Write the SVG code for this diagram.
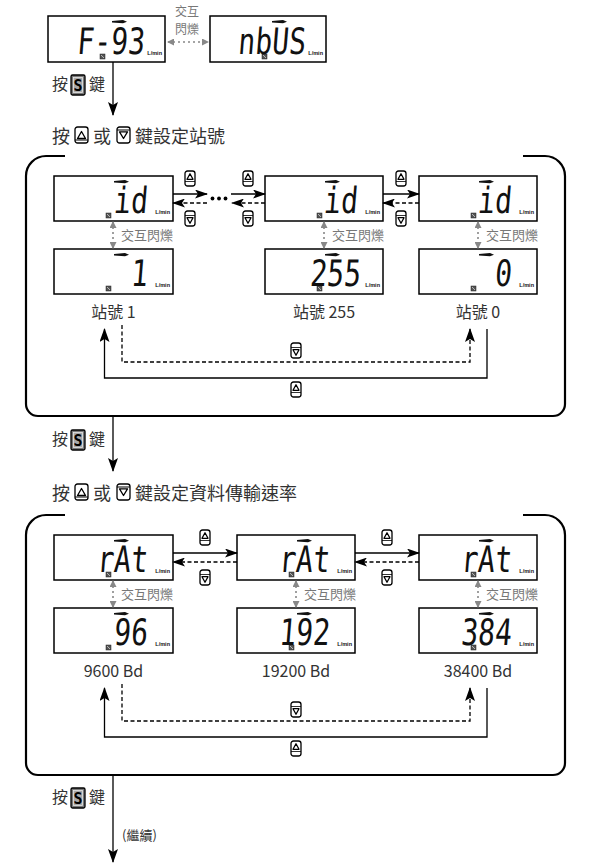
<svg xmlns="http://www.w3.org/2000/svg" width="600" height="864" viewBox="0 0 600 864">
<style>
.disp{fill:#fff;stroke:#000;stroke-width:1.5}
.seg{font-family:"DejaVu Sans Mono",monospace;font-size:28px;fill:#111;text-anchor:end}
.lmin{font-family:"Liberation Sans",Arial,sans-serif;font-size:5.5px;font-weight:bold;fill:#111;text-anchor:end}
.cjk{font-family:"Noto Sans CJK TC","Noto Sans CJK SC",sans-serif}
.title{font-size:18px;fill:#333}
.press{font-size:16px;fill:#333}
.lbl{font-size:16px;fill:#333;text-anchor:middle}
.blink{font-size:13px;fill:#777}
.ln{stroke:#000;stroke-width:1.3;fill:none}
.dash{stroke-dasharray:4 2.5}
.gl{stroke:#888;stroke-width:1.6;stroke-dasharray:2 3;fill:none}
.frame{stroke:#000;stroke-width:2.2;fill:none}
.key{fill:#fff;stroke:#000;stroke-width:1.3}
.tri{fill:none;stroke:#000;stroke-width:1.3;stroke-linejoin:round}
.skey{fill:#7a7a7a;stroke:#000;stroke-width:1.3}
.skin{fill:#a8a8a8;stroke:#e8e8e8;stroke-width:0.8}
.stxt{font-family:"DejaVu Sans Mono",monospace;font-weight:bold;font-size:15px;fill:#000;text-anchor:middle}
</style>
<defs>
<marker id="ah" markerUnits="userSpaceOnUse" markerWidth="13" markerHeight="9" viewBox="0 0 13 9" refX="12" refY="4.5" orient="auto"><path d="M0,0 L13,4.5 L0,9 L3,4.5 Z" fill="#000"/></marker>
<marker id="ahv" markerUnits="userSpaceOnUse" markerWidth="14" markerHeight="10" viewBox="0 0 14 10" refX="13" refY="5" orient="auto"><path d="M0,0 L14,5 L0,10 L3,5 Z" fill="#000"/></marker>
<marker id="ag" markerUnits="userSpaceOnUse" markerWidth="7" markerHeight="7" viewBox="0 0 7 7" refX="6" refY="3.5" orient="auto-start-reverse"><path d="M0,0 L7,3.5 L0,7 Z" fill="#888"/></marker>
<path id="bar" d="M0,0.9 L11,0 L15,1.7 L11,3.3 L0,2.5 Z" fill="#111"/>
<g id="ico"><rect width="5" height="5" fill="#555" stroke="#222" stroke-width="0.5"/><path d="M1,1 L4,4" stroke="#ddd" stroke-width="0.7"/></g>
<g id="ku"><rect x="0" y="0" width="10" height="15" rx="2.5" class="key"/><path d="M5,2.8 L8,8.3 H2 Z" class="tri"/><line x1="0" y1="10.5" x2="10" y2="10.5" stroke="#000" stroke-width="0.8"/></g>
<g id="kd"><rect x="0" y="0" width="10" height="15" rx="2.5" class="key"/><line x1="0" y1="4.5" x2="10" y2="4.5" stroke="#000" stroke-width="0.8"/><path d="M5,12.2 L8,6.7 H2 Z" class="tri"/></g>
<g id="tu"><rect x="0" y="0" width="13" height="16" rx="2.5" class="key" stroke-width="1.5"/><path d="M6.5,4.5 L10.5,11.5 H2.5 Z" class="tri" stroke-width="1.7"/><line x1="0" y1="13" x2="13" y2="13" stroke="#000" stroke-width="1"/></g>
<g id="td"><rect x="0" y="0" width="13" height="16" rx="2.5" class="key" stroke-width="1.5"/><line x1="0" y1="3" x2="13" y2="3" stroke="#000" stroke-width="1"/><path d="M6.5,11.5 L10.5,4.8 H2.5 Z" class="tri" stroke-width="1.7"/></g>
</defs>

<!-- ===== Top section ===== -->
<g id="d-f93">
<rect class="disp" x="48" y="16" width="117" height="46"/>
<use href="#bar" x="112" y="20"/>
<use href="#ico" x="100" y="54"/>
<text class="lmin" x="162" y="55">L/min</text>
<text class="seg" transform="translate(144,54) scale(1,1.3) skewX(-6)">F-93</text>
</g>
<g id="d-nbus">
<rect class="disp" x="210" y="16" width="116" height="46"/>
<use href="#bar" x="272" y="20"/>
<use href="#ico" x="262" y="54"/>
<text class="lmin" x="323" y="55">L/min</text>
<text class="seg" transform="translate(305,54) scale(1,1.3) skewX(-6)">nbUS</text>
</g>
<g id="blink-top">
<text class="cjk" x="187" y="16" font-size="12" fill="#777" text-anchor="middle">交互</text>
<text class="cjk" x="187" y="34" font-size="12" fill="#777" text-anchor="middle">閃爍</text>
</g>
<g id="press1">
<text class="cjk press" x="52" y="90">按</text>
<rect class="skey" x="71" y="75" width="14" height="20" rx="1.5"/>
<rect class="skin" x="73.5" y="77.5" width="9" height="15"/>
<text class="stxt" x="78" y="90.5">S</text>
<text class="cjk press" x="89" y="90">鍵</text>
</g>
<g id="title1">
<text class="cjk title" x="52" y="143">按</text>
<use href="#tu" x="75" y="127"/>
<text class="cjk title" x="93" y="143">或</text>
<use href="#td" x="117" y="127"/>
<text class="cjk title" x="135" y="143">鍵設定站號</text>
</g>

<!-- ===== Box 1 : station number ===== -->
<g id="box1">
<path class="frame" d="M65,156 H46 A20,20 0 0 0 26,176 V404 A12,12 0 0 0 38,416 H553 A12,12 0 0 0 565,404 V176 A20,20 0 0 0 545,156 H523"/>
</g>
<g id="b1-id-a">
<rect class="disp" x="54" y="176" width="119" height="45"/>
<use href="#bar" x="114" y="180"/>
<use href="#ico" x="106" y="213"/>
<text class="lmin" x="170" y="214">L/min</text>
<text class="seg" transform="translate(147,213) scale(1,1.3) skewX(-6)">id</text>
</g>
<g id="b1-id-b">
<rect class="disp" x="265" y="176" width="118" height="45"/>
<use href="#bar" x="325" y="180"/>
<use href="#ico" x="317" y="213"/>
<text class="lmin" x="380" y="214">L/min</text>
<text class="seg" transform="translate(357,213) scale(1,1.3) skewX(-6)">id</text>
</g>
<g id="b1-id-c">
<rect class="disp" x="419" y="176" width="118" height="45"/>
<use href="#bar" x="479" y="180"/>
<use href="#ico" x="471" y="213"/>
<text class="lmin" x="534" y="214">L/min</text>
<text class="seg" transform="translate(511,213) scale(1,1.3) skewX(-6)">id</text>
</g>
<g id="b1-v1">
<rect class="disp" x="54" y="249" width="119" height="45"/>
<use href="#bar" x="114" y="253"/>
<use href="#ico" x="106" y="286"/>
<text class="lmin" x="170" y="287">L/min</text>
<text class="seg" transform="translate(147,286) scale(1,1.3) skewX(-6)">1</text>
</g>
<g id="b1-v255">
<rect class="disp" x="265" y="249" width="118" height="45"/>
<use href="#bar" x="325" y="253"/>
<use href="#ico" x="317" y="286"/>
<text class="lmin" x="380" y="287">L/min</text>
<text class="seg" transform="translate(360,286) scale(1,1.3) skewX(-6)">255</text>
</g>
<g id="b1-v0">
<rect class="disp" x="419" y="249" width="118" height="45"/>
<use href="#bar" x="479" y="253"/>
<use href="#ico" x="471" y="286"/>
<text class="lmin" x="534" y="287">L/min</text>
<text class="seg" transform="translate(511,286) scale(1,1.3) skewX(-6)">0</text>
</g>
<g id="b1-labels">
<text class="cjk blink" x="121" y="240">交互閃爍</text>
<text class="cjk blink" x="332" y="240">交互閃爍</text>
<text class="cjk blink" x="486" y="240">交互閃爍</text>
<text class="cjk lbl" x="113.5" y="318">站號 1</text>
<text class="cjk lbl" x="324" y="318">站號 255</text>
<text class="cjk lbl" x="478" y="318">站號 0</text>
</g>
<g id="b1-keys">
<use href="#ku" x="185" y="171"/>
<use href="#kd" x="185" y="211"/>
<use href="#ku" x="243" y="171"/>
<use href="#kd" x="243" y="211"/>
<use href="#ku" x="396" y="171"/>
<use href="#kd" x="396" y="211"/>
<use href="#kd" x="291" y="343"/>
<use href="#ku" x="291" y="382"/>
</g>

<!-- ===== Middle ===== -->
<g id="press2">
<text class="cjk press" x="52" y="445">按</text>
<rect class="skey" x="71" y="430" width="14" height="20" rx="1.5"/>
<rect class="skin" x="73.5" y="432.5" width="9" height="15"/>
<text class="stxt" x="78" y="445.5">S</text>
<text class="cjk press" x="89" y="445">鍵</text>
</g>
<g id="title2">
<text class="cjk title" x="52" y="500">按</text>
<use href="#tu" x="75" y="484"/>
<text class="cjk title" x="93" y="500">或</text>
<use href="#td" x="117" y="484"/>
<text class="cjk title" x="135" y="500">鍵設定資料傳輸速率</text>
</g>

<!-- ===== Box 2 : baud rate ===== -->
<g id="box2">
<path class="frame" d="M65,515 H46 A20,20 0 0 0 26,535 V763 A12,12 0 0 0 38,775 H553 A12,12 0 0 0 565,763 V535 A20,20 0 0 0 545,515 H523"/>
</g>
<g id="b2-rat-a">
<rect class="disp" x="54" y="535" width="119" height="45"/>
<use href="#bar" x="114" y="539"/>
<use href="#ico" x="106" y="572"/>
<text class="lmin" x="170" y="573">L/min</text>
<text class="seg" transform="translate(147,572) scale(1,1.3) skewX(-6)">rAt</text>
</g>
<g id="b2-rat-b">
<rect class="disp" x="237" y="535" width="118" height="45"/>
<use href="#bar" x="297" y="539"/>
<use href="#ico" x="289" y="572"/>
<text class="lmin" x="352" y="573">L/min</text>
<text class="seg" transform="translate(329,572) scale(1,1.3) skewX(-6)">rAt</text>
</g>
<g id="b2-rat-c">
<rect class="disp" x="419" y="535" width="118" height="45"/>
<use href="#bar" x="479" y="539"/>
<use href="#ico" x="471" y="572"/>
<text class="lmin" x="534" y="573">L/min</text>
<text class="seg" transform="translate(511,572) scale(1,1.3) skewX(-6)">rAt</text>
</g>
<g id="b2-v96">
<rect class="disp" x="54" y="608" width="119" height="45"/>
<use href="#bar" x="114" y="612"/>
<use href="#ico" x="106" y="645"/>
<text class="lmin" x="170" y="646">L/min</text>
<text class="seg" transform="translate(147,645) scale(1,1.3) skewX(-6)">96</text>
</g>
<g id="b2-v192">
<rect class="disp" x="237" y="608" width="118" height="45"/>
<use href="#bar" x="297" y="612"/>
<use href="#ico" x="289" y="645"/>
<text class="lmin" x="352" y="646">L/min</text>
<text class="seg" transform="translate(329,645) scale(1,1.3) skewX(-6)">192</text>
</g>
<g id="b2-v384">
<rect class="disp" x="419" y="608" width="118" height="45"/>
<use href="#bar" x="479" y="612"/>
<use href="#ico" x="471" y="645"/>
<text class="lmin" x="534" y="646">L/min</text>
<text class="seg" transform="translate(511,645) scale(1,1.3) skewX(-6)">384</text>
</g>
<g id="b2-labels">
<text class="cjk blink" x="121" y="599">交互閃爍</text>
<text class="cjk blink" x="304" y="599">交互閃爍</text>
<text class="cjk blink" x="486" y="599">交互閃爍</text>
<text class="cjk lbl" x="113.5" y="677">9600 Bd</text>
<text class="cjk lbl" x="296" y="677">19200 Bd</text>
<text class="cjk lbl" x="478" y="677">38400 Bd</text>
</g>
<g id="b2-keys">
<use href="#ku" x="200" y="530"/>
<use href="#kd" x="200" y="570"/>
<use href="#ku" x="382" y="530"/>
<use href="#kd" x="382" y="570"/>
<use href="#kd" x="291" y="702"/>
<use href="#ku" x="291" y="741"/>
</g>
<g id="press3">
<text class="cjk press" x="52" y="803">按</text>
<rect class="skey" x="71" y="788" width="14" height="20" rx="1.5"/>
<rect class="skin" x="73.5" y="790.5" width="9" height="15"/>
<text class="stxt" x="78" y="803.5">S</text>
<text class="cjk press" x="89" y="803">鍵</text>
</g>
<g id="cont">
<text class="cjk" x="122" y="840" font-size="13" fill="#333">(繼續)</text>
</g>

<!-- ===== Connectors ===== -->
<g id="connectors">
<line class="gl" x1="168" y1="42" x2="208" y2="42" marker-start="url(#ag)" marker-end="url(#ag)"/>
<line class="ln" x1="113" y1="62" x2="113" y2="115" marker-end="url(#ahv)"/>
<line class="ln" x1="173" y1="194" x2="207" y2="194" marker-end="url(#ah)"/>
<circle cx="212.5" cy="198.5" r="1.9" fill="#000"/>
<circle cx="219" cy="198.5" r="1.9" fill="#000"/>
<circle cx="225.5" cy="198.5" r="1.9" fill="#000"/>
<line class="ln" x1="231" y1="194" x2="265" y2="194" marker-end="url(#ah)"/>
<line class="ln dash" x1="265" y1="203" x2="232" y2="203" marker-end="url(#ah)"/>
<line class="ln dash" x1="207" y1="203" x2="173" y2="203" marker-end="url(#ah)"/>
<line class="ln" x1="383" y1="194" x2="419" y2="194" marker-end="url(#ah)"/>
<line class="ln dash" x1="419" y1="203" x2="383" y2="203" marker-end="url(#ah)"/>
<line class="gl" x1="113" y1="222" x2="113" y2="248" marker-start="url(#ag)" marker-end="url(#ag)"/>
<line class="gl" x1="324" y1="222" x2="324" y2="248" marker-start="url(#ag)" marker-end="url(#ag)"/>
<line class="gl" x1="478" y1="222" x2="478" y2="248" marker-start="url(#ag)" marker-end="url(#ag)"/>
<path class="ln" d="M487,329 V378 H104.5 V329" marker-end="url(#ahv)"/>
<path class="ln dash" d="M122,325 V362 H470 V329" marker-end="url(#ahv)"/>
<line class="ln" x1="113" y1="416" x2="113" y2="471" marker-end="url(#ahv)"/>
<line class="ln" x1="173" y1="553" x2="237" y2="553" marker-end="url(#ah)"/>
<line class="ln dash" x1="237" y1="562" x2="173" y2="562" marker-end="url(#ah)"/>
<line class="ln" x1="355" y1="553" x2="419" y2="553" marker-end="url(#ah)"/>
<line class="ln dash" x1="419" y1="562" x2="355" y2="562" marker-end="url(#ah)"/>
<line class="gl" x1="113" y1="581" x2="113" y2="607" marker-start="url(#ag)" marker-end="url(#ag)"/>
<line class="gl" x1="296" y1="581" x2="296" y2="607" marker-start="url(#ag)" marker-end="url(#ag)"/>
<line class="gl" x1="478" y1="581" x2="478" y2="607" marker-start="url(#ag)" marker-end="url(#ag)"/>
<path class="ln" d="M487,688 V737 H104.5 V688" marker-end="url(#ahv)"/>
<path class="ln dash" d="M122,684 V721 H470 V688" marker-end="url(#ahv)"/>
<line class="ln" x1="113" y1="775" x2="113" y2="862" marker-end="url(#ahv)"/>
</g>
</svg>
